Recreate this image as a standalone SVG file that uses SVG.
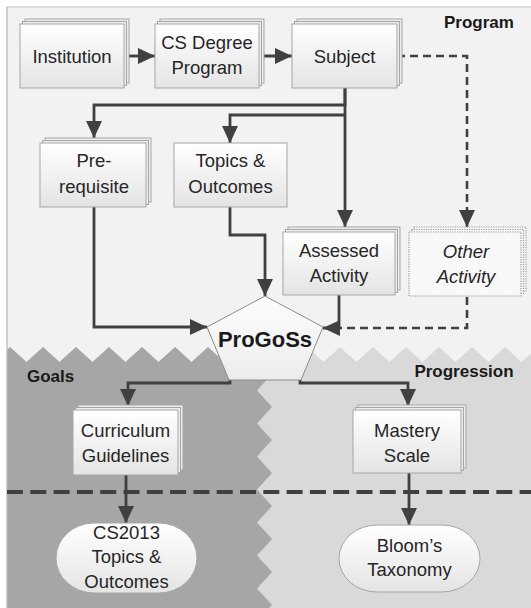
<svg xmlns="http://www.w3.org/2000/svg" width="531" height="608" viewBox="0 0 531 608">
<defs>
<linearGradient id="boxg" x1="0" y1="0" x2="0" y2="1">
<stop offset="0" stop-color="#ffffff"/>
<stop offset="1" stop-color="#e4e4e4"/>
</linearGradient>
<linearGradient id="pentg" x1="0" y1="0" x2="0" y2="1">
<stop offset="0" stop-color="#fdfdfd"/>
<stop offset="1" stop-color="#ececec"/>
</linearGradient>
<marker id="ah" markerUnits="userSpaceOnUse" markerWidth="18" markerHeight="16" refX="17" refY="8" orient="auto">
<path d="M0,0 L17,8 L0,16 Z" fill="#404040"/>
</marker>
<style>
.box{fill:url(#boxg);stroke:#a6a6a6;stroke-width:1}
.page{fill:#ececec;stroke:#a6a6a6;stroke-width:1}
.dpage{fill:#f6f6f6;stroke:#9a9a9a;stroke-width:1.2;stroke-dasharray:1.2 1.2}
.dbox{fill:#f8f8f8;stroke:#9a9a9a;stroke-width:1.2;stroke-dasharray:1.2 1.2}
.t{font-family:"Liberation Sans",Arial,sans-serif;font-size:18.5px;fill:#262626;text-anchor:middle}
.it{font-style:italic}
.lbl{font-family:"Liberation Sans",Arial,sans-serif;font-size:17px;font-weight:bold;fill:#1a1a1a}
.c{fill:none;stroke:#404040;stroke-width:2.8}
.cd{fill:none;stroke:#404040;stroke-width:2.6;stroke-dasharray:8 5}
</style>
</defs>

<g id="background">
<rect x="0" y="0" width="531" height="608" fill="#ffffff"/>
<rect x="7" y="7" width="530" height="610" fill="#f2f2f2" stroke="#bfbfbf" stroke-width="1"/>
<path id="progression-area" fill="#d9d9d9" d="M7,350 L10,347 L26.5,362 L43,347 L59.5,362 L76,347 L92.5,362 L109,347 L125.5,362 L142,347 L158.5,362 L175,347 L191.5,362 L208,347 L224.5,362 L241,347 L257.5,362 L274,347 L290.5,362 L307,347 L323.5,362 L340,347 L356.5,362 L373,347 L389.5,362 L406,347 L422.5,362 L439,347 L455.5,362 L472,347 L488.5,362 L505,347 L521.5,362 L531,353.4 L531,608 L7,608 Z"/>
<path id="goals-area" fill="#a6a6a6" d="M7,350 L10,347 L26.5,362 L43,347 L59.5,362 L76,347 L92.5,362 L109,347 L125.5,362 L142,347 L158.5,362 L175,347 L191.5,362 L208,347 L224.5,362 L241,347 L257.5,362 L272,374 L257,390.5 L272,407 L257,423.5 L272,440 L257,456.5 L272,473 L257,489.5 L272,506 L257,522.5 L272,539 L257,555.5 L272,572 L257,588.5 L272,605 L269,608 L7,608 Z"/>
<line x1="7" y1="7" x2="7" y2="608" stroke="#bfbfbf" stroke-width="1"/>
<line x1="7" y1="492" x2="531" y2="492" stroke="#404040" stroke-width="4" stroke-dasharray="16 7.3"/>
<text class="lbl" x="479" y="28" text-anchor="middle">Program</text>
<text class="lbl" x="27" y="382">Goals</text>
<text class="lbl" x="464" y="377" text-anchor="middle">Progression</text>
</g>

<g id="connectors">
<path class="c" d="M124,56 L155,56" marker-end="url(#ah)"/>
<path class="c" d="M259,56 L292,56" marker-end="url(#ah)"/>
<path class="c" d="M345,88 L345,105 L94,105 L94,138" marker-end="url(#ah)"/>
<path class="c" d="M345,115 L230,115 L230,143" marker-end="url(#ah)"/>
<path class="c" d="M345,88 L345,227" marker-end="url(#ah)"/>
<path class="cd" d="M397,56 L467,56 L467,227" marker-end="url(#ah)"/>
<path class="c" d="M94,207 L94,327 L207,327" marker-end="url(#ah)"/>
<path class="c" d="M230,207 L230,235 L265,235 L265,296" marker-end="url(#ah)"/>
<path class="cd" d="M467,297 L467,328 L340,328"/>
<path class="c" d="M339,295 L339,328 L323,328" marker-end="url(#ah)"/>
<path class="c" d="M230,380 L230,383 L128,383 L128,406" marker-end="url(#ah)"/>
<path class="c" d="M300,380 L300,383 L408,383 L408,406" marker-end="url(#ah)"/>
<path class="c" d="M126,475 L126,523" marker-end="url(#ah)"/>
<path class="c" d="M409,473 L409,525" marker-end="url(#ah)"/>
</g>

<g id="institution">
<rect class="page" x="25" y="19" width="104" height="64"/>
<rect class="page" x="22.5" y="21.5" width="104" height="64"/>
<rect class="box" x="20" y="24" width="104" height="64"/>
<text class="t" x="72" y="62.5">Institution</text>
</g>

<g id="cs-degree-program">
<rect class="page" x="160" y="19" width="104" height="64"/>
<rect class="page" x="157.5" y="21.5" width="104" height="64"/>
<rect class="box" x="155" y="24" width="104" height="64"/>
<text class="t" x="207" y="49">CS Degree</text>
<text class="t" x="207" y="74">Program</text>
</g>

<g id="subject">
<rect class="page" x="297" y="19" width="105" height="64"/>
<rect class="page" x="294.5" y="21.5" width="105" height="64"/>
<rect class="box" x="292" y="24" width="105" height="64"/>
<text class="t" x="344.5" y="62.5">Subject</text>
</g>

<g id="prerequisite">
<rect class="page" x="45" y="138" width="106" height="64"/>
<rect class="page" x="42.5" y="140.5" width="106" height="64"/>
<rect class="box" x="40" y="143" width="106" height="64"/>
<text class="t" x="94" y="167">Pre-</text>
<text class="t" x="94" y="193">requisite</text>
</g>

<g id="topics-outcomes">
<rect class="box" x="174" y="143" width="113" height="64"/>
<text class="t" x="230.5" y="167">Topics &amp;</text>
<text class="t" x="230.5" y="193">Outcomes</text>
</g>

<g id="assessed-activity">
<rect class="page" x="288" y="227" width="112" height="63"/>
<rect class="page" x="285.5" y="229.5" width="112" height="63"/>
<rect class="box" x="283" y="232" width="112" height="63"/>
<text class="t" x="339" y="257">Assessed</text>
<text class="t" x="339" y="282">Activity</text>
</g>

<g id="other-activity">
<rect class="dpage" x="414" y="227" width="112" height="64"/>
<rect class="dpage" x="411.5" y="229.5" width="112" height="64"/>
<rect class="dbox" x="409" y="232" width="112" height="64"/>
<text class="t it" x="466" y="258">Other</text>
<text class="t it" x="466" y="283">Activity</text>
</g>

<g id="progoss">
<polygon points="265,296 323,327 301,380 229,380 207,327" fill="url(#pentg)" stroke="#8c8c8c" stroke-width="1"/>
<text x="265" y="347" font-family="'Liberation Sans',Arial,sans-serif" font-size="22" font-weight="bold" fill="#1a1a1a" text-anchor="middle">ProGoSs</text>
</g>

<g id="curriculum-guidelines">
<rect class="page" x="78" y="405" width="105" height="65"/>
<rect class="page" x="75.5" y="407.5" width="105" height="65"/>
<rect class="box" x="73" y="410" width="105" height="65"/>
<text class="t" x="125.5" y="437">Curriculum</text>
<text class="t" x="125.5" y="462">Guidelines</text>
</g>

<g id="mastery-scale">
<rect class="page" x="358" y="405" width="108" height="63"/>
<rect class="page" x="355.5" y="407.5" width="108" height="63"/>
<rect class="box" x="353" y="410" width="108" height="63"/>
<text class="t" x="407" y="437">Mastery</text>
<text class="t" x="407" y="462">Scale</text>
</g>

<g id="cs2013-topics-outcomes">
<rect class="box" x="56" y="523" width="141" height="70" rx="38" ry="35"/>
<text class="t" x="126.5" y="539">CS2013</text>
<text class="t" x="126.5" y="563">Topics &amp;</text>
<text class="t" x="126.5" y="588">Outcomes</text>
</g>

<g id="blooms-taxonomy">
<rect class="box" x="339" y="525" width="141" height="67" rx="38" ry="33.5"/>
<text class="t" x="409.5" y="552">Bloom’s</text>
<text class="t" x="409.5" y="576">Taxonomy</text>
</g>
</svg>
